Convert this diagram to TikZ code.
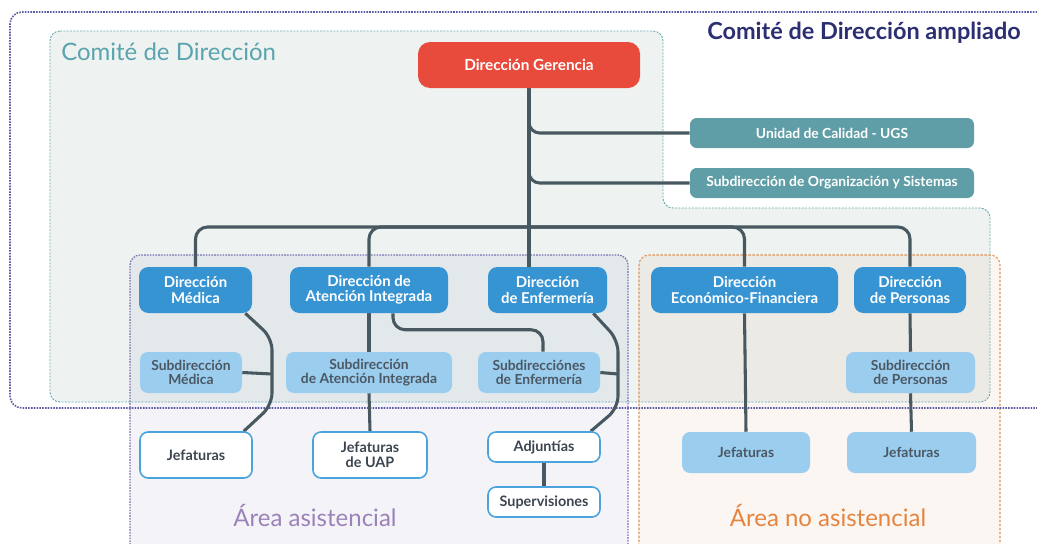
\documentclass[tikz,border=0pt]{standalone}
\usepackage{fontspec}
\setmainfont{Lato}
\usetikzlibrary{calc}

\definecolor{gerred}{HTML}{E84A3C}
\definecolor{tealbox}{HTML}{5F9EA6}
\definecolor{dblue}{HTML}{3794D3}
\definecolor{wline}{HTML}{4AA3DC}
\definecolor{lblue}{HTML}{9ACDEE}
\definecolor{ltext}{HTML}{4B5864}
\definecolor{wtext}{HTML}{3D4650}
\definecolor{conncol}{HTML}{475860}
\definecolor{comfill}{HTML}{EEF3F2}
\definecolor{comline}{HTML}{6AA9AE}
\definecolor{comtext}{HTML}{5AA4AD}
\definecolor{amplline}{HTML}{5C5AA6}
\definecolor{ampltext}{HTML}{2B2F72}
\definecolor{asline}{HTML}{7A70B0}
\definecolor{astext}{HTML}{9B82B8}
\definecolor{asfill}{HTML}{5A5A9A}
\definecolor{noline}{HTML}{E0925A}
\definecolor{notext}{HTML}{E5843F}
\definecolor{nofill}{HTML}{D08040}

\pgfdeclarelayer{regions}
\pgfdeclarelayer{lines}
\pgfsetlayers{regions,lines,main}

\tikzset{
  box/.style={rounded corners=7pt, inner sep=0pt, align=center},
  redbox/.style={box, fill=gerred, text=white, rounded corners=9pt,
    font=\bfseries\fontsize{11.5}{13}\selectfont},
  tealnode/.style={box, fill=tealbox, text=white, rounded corners=5pt,
    font=\bfseries\fontsize{10.4}{12}\selectfont},
  dirbox/.style={box, fill=dblue, text=white,
    font=\bfseries\fontsize{11.2}{11.6}\selectfont},
  subbox/.style={box, fill=lblue, text=ltext, rounded corners=6pt,
    font=\bfseries\fontsize{10.4}{10.8}\selectfont},
  jefbox/.style={box, fill=white, draw=wline, line width=1.2pt, text=wtext,
    rounded corners=6pt, font=\bfseries\fontsize{10.8}{11.6}\selectfont},
  conn/.style={draw=conncol, line width=2.3pt},
  title/.style={inner sep=0pt, font=\fontsize{18}{20}\selectfont},
}

\begin{document}
\begin{tikzpicture}[x=0.75pt,y=-0.75pt]
\useasboundingbox (0,0) rectangle (1037,543);

% --- region titles ---
\node[title, anchor=west, text=comtext] (tcom) at (61,52) {Comité de Dirección};
\node[title, text=ampltext, font=\bfseries\fontsize{17.6}{20}\selectfont] (tampl) at (864,33) {Comité de Dirección ampliado};
\node[title, text=astext] (tas) at (315,515) {Área asistencial};
\node[title, text=notext] (tno) at (828,515) {Área no asistencial};

% --- units ---
\node[redbox, minimum width=166.5pt, minimum height=34.5pt] (dg) at (529,65) {Dirección Gerencia};
\node[tealnode, minimum width=213pt, minimum height=22.5pt] (ugs) at (832,133) {Unidad de Calidad - UGS};
\node[tealnode, minimum width=213pt, minimum height=22.5pt] (sos) at (832,183) {Subdirección de Organización y Sistemas};

\node[dirbox, minimum width=84.75pt, minimum height=34.5pt] (dm) at (195.5,290) {Dirección\\Médica};
\node[dirbox, minimum width=118.5pt, minimum height=34.5pt] (dai) at (369,290) {Dirección de\\Atención Integrada};
\node[dirbox, minimum width=89.25pt, minimum height=34.5pt] (den) at (547.5,290) {Dirección\\de Enfermería};
\node[dirbox, minimum width=140.25pt, minimum height=34.5pt] (dec) at (744.5,290) {Dirección\\Económico-Financiera};
\node[dirbox, minimum width=84pt, minimum height=34.5pt] (dpe) at (910,290) {Dirección\\de Personas};

\node[subbox, minimum width=76.5pt, minimum height=30.75pt] (sm) at (191,372.5) {Subdirección\\Médica};
\node[subbox, minimum width=124.5pt, minimum height=30.75pt] (sai) at (369,372.5) {Subdirección\\de Atención Integrada};
\node[subbox, minimum width=91.5pt, minimum height=30.75pt] (sen) at (539,372.5) {Subdirecciónes\\de Enfermería};
\node[subbox, minimum width=96.75pt, minimum height=30.75pt] (spe) at (910.5,372.5) {Subdirección\\de Personas};

\node[jefbox, minimum width=84pt, minimum height=34.5pt] (jm) at (196,455) {Jefaturas};
\node[jefbox, minimum width=85.5pt, minimum height=34.5pt] (juap) at (370,455) {Jefaturas\\de UAP};
\node[jefbox, minimum width=84pt, minimum height=22.5pt] (adj) at (544,447) {Adjuntías};
\node[jefbox, minimum width=84pt, minimum height=22.5pt] (sup) at (544,502) {Supervisiones};
\node[subbox, minimum width=96pt, minimum height=30.75pt] (jec) at (746,452.5) {Jefaturas};
\node[subbox, minimum width=96.75pt, minimum height=30.75pt] (jpe) at (911.5,452.5) {Jefaturas};

% --- background regions ---
\begin{pgfonlayer}{regions}
\fill[comfill, rounded corners=7.5pt]
  (50,31) -- (663,31) -- (663,208) -- (990,208) -- (990,402) -- (50,402) -- cycle;
\fill[asfill, fill opacity=0.07, rounded corners=7.5pt] (130,255) rectangle (628,570);
\fill[nofill, fill opacity=0.07, rounded corners=7.5pt] (639,255) rectangle (1000,570);
\draw[comline, line width=0.7pt, dash pattern=on 1.5pt off 1pt, rounded corners=7.5pt]
  (50,31) -- (663,31) -- (663,208) -- (990,208) -- (990,402) -- (50,402) -- cycle;
\draw[asline, line width=0.9pt, dash pattern=on 1.2pt off 0.9pt, rounded corners=7.5pt]
  (130,570) -- (130,255) -- (628,255) -- (628,570);
\draw[noline, line width=0.8pt, dash pattern=on 1.8pt off 1.2pt, rounded corners=7.5pt]
  (639,570) -- (639,255) -- (1000,255) -- (1000,570);
\draw[amplline, line width=1.2pt, dash pattern=on 1.2pt off 0.9pt, rounded corners=9pt]
  (1040,12) -- (10,12) -- (10,408) -- (1040,408);
\end{pgfonlayer}

% --- connectors ---
\coordinate (bus) at (529,227);
\coordinate (mv) at (272,374);
\coordinate (ev) at (618,374);

\begin{pgfonlayer}{lines}
% trunk and staff units
\draw[conn] (dg.south) -- (dg.south |- den.north);
\draw[conn, rounded corners=8pt] (dg.south) |- (ugs.west);
\draw[conn, rounded corners=8pt] (dg.south) |- (sos.west);

% horizontal bus to the directorates
\draw[conn, rounded corners=9pt] (dm.north) |- (bus) -| (dpe.north);
\draw[conn, rounded corners=9pt] (dai.north) |- (bus);
\draw[conn, rounded corners=9pt] (dec.north) |- (bus);

% Dirección Médica
\draw[conn, rounded corners=9pt]
  ($(dm.south east)+(-7,0)$) -- (272,338) -- (272,405) -- ($(jm.north east)+(-9,0)$);
\draw[conn] (sm.east) -- (mv);

% Dirección de Atención Integrada
\draw[conn] (dai.south) -- (sai.north);
\draw[conn] (sai.south) -- (juap.north);
\draw[conn, rounded corners=9pt]
  ($(dai.south)+(24,0)$) |- ($(sen.north)+(4,-22)$) -- ($(sen.north)+(4,0)$);

% Dirección de Enfermería
\draw[conn, rounded corners=9pt]
  ($(den.south east)+(-14,0)$) -- (618,340) -- (618,408) -- ($(adj.north east)+(-10,0)$);
\draw[conn] (sen.east) -- (ev);
\draw[conn] (adj.south) -- (sup.north);

% Dirección Económico-Financiera
\draw[conn] (dec.south) -- (jec.north);

% Dirección de Personas
\draw[conn] (dpe.south) -- (spe.north);
\draw[conn] (spe.south) -- (jpe.north);
\end{pgfonlayer}
\end{tikzpicture}
\end{document}
